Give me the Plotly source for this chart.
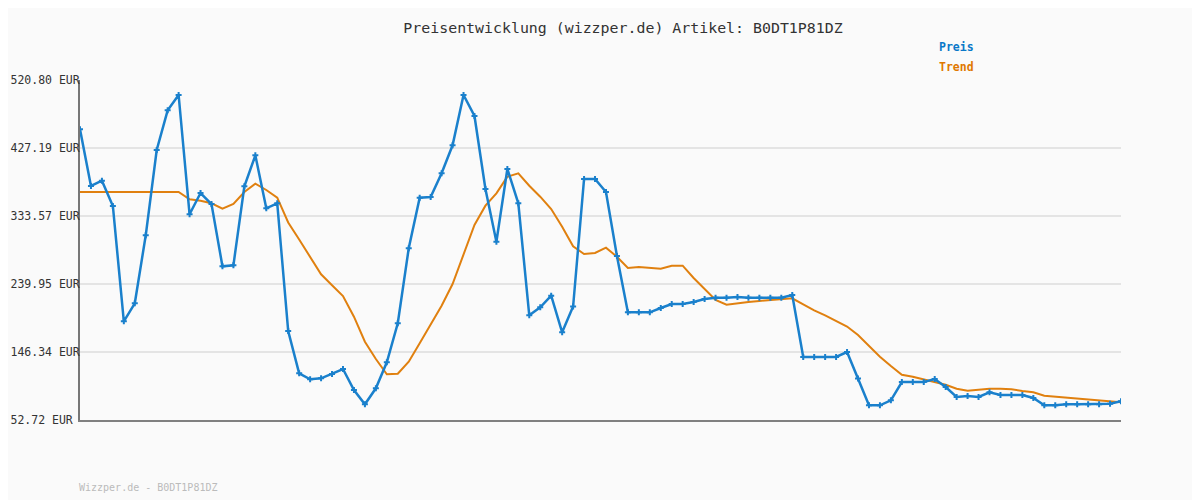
import plotly.graph_objects as go

title_text = "Preisentwicklung (wizzper.de) Artikel: B0DT1P81DZ"
footer_text = "Wizzper.de - B0DT1P81DZ"

tick_values = [52.72, 146.34, 239.95, 333.57, 427.19, 520.80]
tick_labels = ["52.72 EUR\u00a0", "146.34 EUR", "239.95 EUR", "333.57 EUR", "427.19 EUR", "520.80 EUR"]

preis = [
    452.93, 374.87, 382.17, 347.33, 188.60, 213.38, 307.00, 424.43, 479.09, 500.15,
    335.91, 365.23, 350.09, 264.32, 265.70, 374.46, 417.13, 344.17, 351.05, 175.25,
    117.01, 108.75, 110.13, 116.05, 122.93, 94.02, 74.34, 96.36, 132.16, 185.85,
    289.10, 358.76, 359.73, 392.35, 430.90, 500.15, 471.24, 370.74, 298.19, 398.27,
    351.05, 196.86, 207.88, 223.85, 173.46, 208.98, 384.51, 384.51, 366.61, 278.50,
    200.99, 200.99, 200.99, 206.91, 212.42, 212.42, 215.17, 219.30, 221.09, 221.09,
    222.06, 221.09, 221.09, 221.09, 221.09, 224.81, 139.45, 139.45, 139.45, 139.45,
    146.34, 109.85, 72.96, 72.96, 79.84, 105.03, 105.03, 105.03, 109.17, 98.15,
    84.39, 85.76, 84.39, 90.86, 87.14, 87.14, 87.14, 83.01, 72.96, 72.96,
    74.34, 74.34, 74.34, 74.34, 75.16, 78.46,
]

trend = [
    366.61, 366.61, 366.61, 366.61, 366.61, 366.61, 366.61, 366.61, 366.61, 366.61,
    356.56, 354.63, 351.05, 343.62, 350.09, 366.61, 378.04, 369.36, 358.76, 324.62,
    301.22, 277.54, 253.31, 238.16, 223.43, 194.93, 160.52, 136.70, 115.64, 116.46,
    132.98, 158.31, 183.51, 210.08, 239.95, 279.88, 321.18, 347.75, 364.82, 387.67,
    392.35, 375.28, 360.14, 343.20, 318.84, 291.85, 281.25, 282.63, 289.93, 277.54,
    261.98, 263.36, 262.39, 261.02, 265.15, 265.15, 248.21, 233.07, 217.92, 211.45,
    213.80, 215.17, 216.55, 217.92, 219.30, 220.27, 212.01, 203.75, 196.86, 189.01,
    181.44, 169.74, 154.60, 139.87, 127.06, 115.09, 112.33, 108.75, 105.03, 101.32,
    95.81, 93.06, 94.44, 95.81, 95.81, 94.99, 92.64, 90.86, 86.17, 84.80,
    83.42, 82.04, 80.67, 79.29, 77.91, 77.09,
]

x_idx = list(range(len(preis)))

BLUE = "#1a80cc"
ORANGE = "#e0800f"
MONO = "DejaVu Sans Mono"

# The page body has an 8px margin, so the figure is drawn 8px in from the window corner.
OFF = 8
W, H = 1200, 500
PL, PR, PT, PB = 80 - OFF, 1121 - OFF, 80 - OFF, 420 - OFF

fig = go.Figure()
fig.add_trace(go.Scatter(
    x=x_idx, y=trend, mode="lines", name="Trend",
    line=dict(color=ORANGE, width=2), showlegend=False, hoverinfo="skip",
))
fig.add_trace(go.Scatter(
    x=x_idx, y=preis, mode="lines+markers", name="Preis",
    line=dict(color=BLUE, width=2.5),
    marker=dict(symbol="cross", size=5, color=BLUE),
    showlegend=False,
))


def px_x(v):
    return (v - OFF - PL) / (PR - PL)


def px_y(v):
    return (PB - (v - OFF)) / (PB - PT)


fig.update_layout(
    width=W, height=H,
    margin=dict(l=PL, r=W - PR, t=PT, b=H - PB, autoexpand=False),
    paper_bgcolor="#fafafa", plot_bgcolor="#fafafa",
    title=dict(text=title_text, xref="container", x=(623 - OFF) / W, xanchor="center",
               yref="container", y=1 - (28 - OFF) / H, yanchor="middle",
               font=dict(family=MONO, size=14.9, color="#333333")),
    xaxis=dict(range=[0, len(preis) - 1], showgrid=False, zeroline=False, automargin=False,
               showticklabels=False, ticks="", showline=True, linewidth=2, linecolor="#808080"),
    yaxis=dict(range=[52.72, 520.80], tickvals=tick_values, ticktext=tick_labels, automargin=False,
               showgrid=True, gridcolor="#e4e4e4", gridwidth=2, zeroline=False,
               showline=True, linewidth=2, linecolor="#777777", ticks="", ticklabelstandoff=-4,
               tickfont=dict(family=MONO, size=11.5, color="#333333")),
    annotations=[
        dict(text="<b>Preis</b>", x=px_x(937), y=px_y(47), xref="paper", yref="paper", showarrow=False,
             font=dict(family=MONO, size=11.5, color="#0a78c8"), xanchor="left", yanchor="middle"),
        dict(text="<b>Trend</b>", x=px_x(937), y=px_y(67), xref="paper", yref="paper", showarrow=False,
             font=dict(family=MONO, size=11.5, color="#e07800"), xanchor="left", yanchor="middle"),
        dict(text=footer_text, x=px_x(77), y=px_y(487), xref="paper", yref="paper", showarrow=False,
             font=dict(family=MONO, size=10, color="#bbbbbb"), xanchor="left", yanchor="middle"),
    ],
)

fig.write_html("out.html")
